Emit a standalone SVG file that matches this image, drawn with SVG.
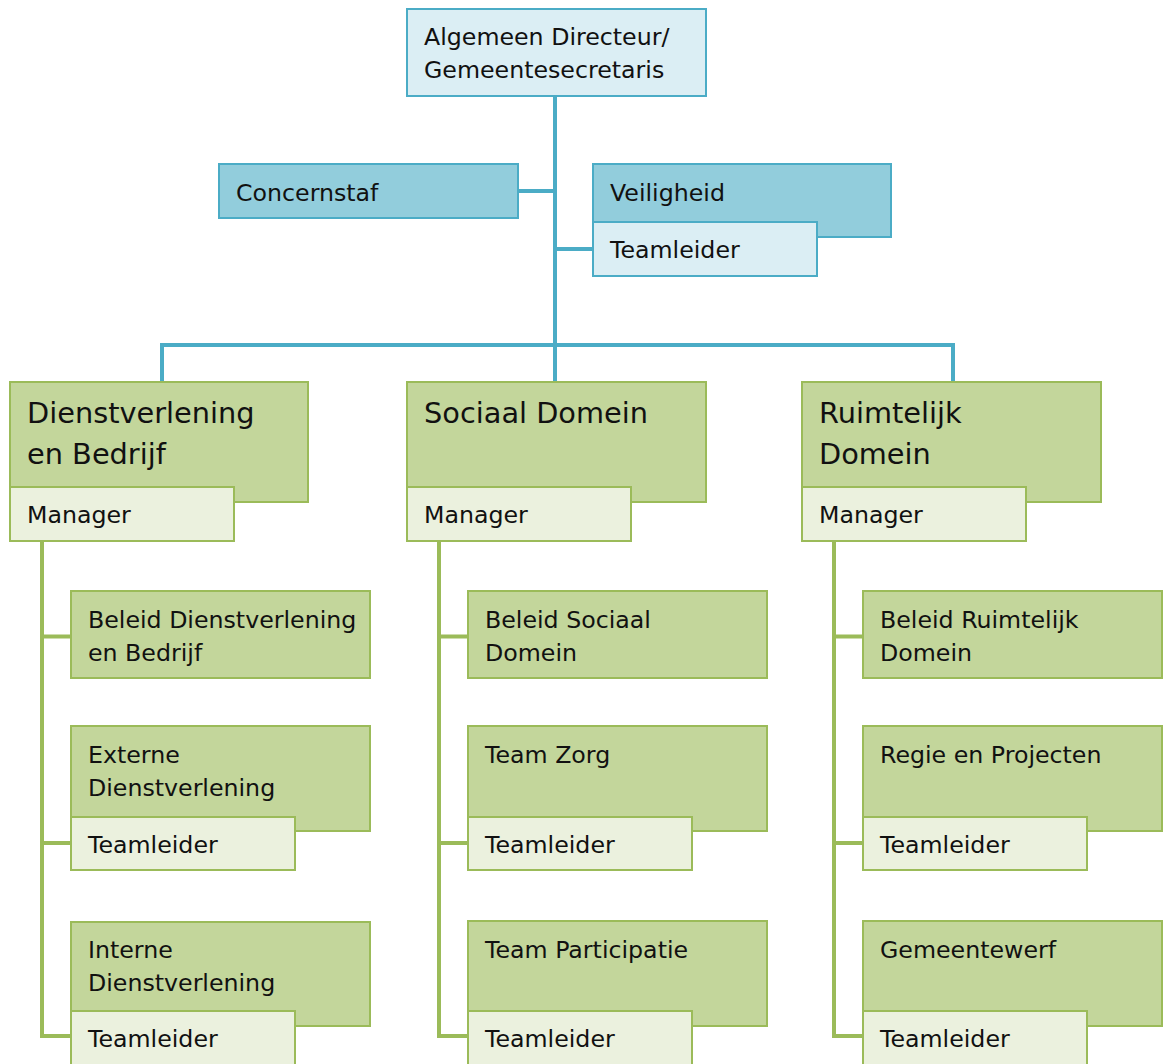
<svg xmlns="http://www.w3.org/2000/svg" width="1170" height="1064" viewBox="0 0 1170 1064">
  <style>
    text { font-family: "DejaVu Sans", Verdana, sans-serif; font-size: 23.7px; fill: #111; }
    .big { font-size: 28.8px; }
    .blueL { fill: #DBEEF4; stroke: #4BACC6; stroke-width: 2; }
    .blueM { fill: #92CDDC; stroke: #4BACC6; stroke-width: 2; }
    .green { fill: #C3D69B; stroke: #9BBB59; stroke-width: 2; }
    .greenL { fill: #EBF1DE; stroke: #9BBB59; stroke-width: 2; }
    .lnB { fill: none; stroke: #4BACC6; stroke-width: 4; }
    .lnG { fill: none; stroke: #9BBB59; stroke-width: 4; }
  </style>
  <rect width="1170" height="1064" fill="#fff"/>

  <!-- connectors -->
  <g id="connectors">
    <path class="lnB" d="M555 96 V382 M518 191 H555 M555 249 H593 M162 382 V345 H953 V382"/>
    <path class="lnG" d="M42 541 V1036 H71 M42 636.5 H71 M42 843 H71"/>
    <path class="lnG" d="M439 541 V1036 H468 M439 636.5 H468 M439 843 H468"/>
    <path class="lnG" d="M834 541 V1036 H863 M834 636.5 H863 M834 843 H863"/>
  </g>

  <!-- top -->
  <g id="directeur">
    <rect class="blueL" x="407" y="9" width="299" height="87"/>
    <text x="424" y="45">Algemeen Directeur/</text>
    <text x="424" y="78">Gemeentesecretaris</text>
  </g>
  <g id="concernstaf">
    <rect class="blueM" x="219" y="164" width="299" height="54"/>
    <text x="236" y="201">Concernstaf</text>
  </g>
  <g id="veiligheid">
    <rect class="blueM" x="593" y="164" width="298" height="73"/>
    <text x="610" y="201">Veiligheid</text>
    <rect class="blueL" x="593" y="222" width="224" height="54"/>
    <text x="610" y="258">Teamleider</text>
  </g>

  <!-- domains -->
  <g id="dienstverlening">
    <rect class="green" x="10" y="382" width="298" height="120"/>
    <text class="big" x="27" y="423">Dienstverlening</text>
    <text class="big" x="27" y="464">en Bedrijf</text>
    <rect class="greenL" x="10" y="487" width="224" height="54"/>
    <text x="27" y="523">Manager</text>
  </g>
  <g id="sociaal">
    <rect class="green" x="407" y="382" width="299" height="120"/>
    <text class="big" x="424" y="423">Sociaal Domein</text>
    <rect class="greenL" x="407" y="487" width="224" height="54"/>
    <text x="424" y="523">Manager</text>
  </g>
  <g id="ruimtelijk">
    <rect class="green" x="802" y="382" width="299" height="120"/>
    <text class="big" x="819" y="423">Ruimtelijk</text>
    <text class="big" x="819" y="464">Domein</text>
    <rect class="greenL" x="802" y="487" width="224" height="54"/>
    <text x="819" y="523">Manager</text>
  </g>

  <!-- left column -->
  <g id="beleid-dvb">
    <rect class="green" x="71" y="591" width="299" height="87"/>
    <text x="88" y="628">Beleid Dienstverlening</text>
    <text x="88" y="661">en Bedrijf</text>
  </g>
  <g id="externe">
    <rect class="green" x="71" y="726" width="299" height="105"/>
    <text x="88" y="763">Externe</text>
    <text x="88" y="796">Dienstverlening</text>
    <rect class="greenL" x="71" y="817" width="224" height="53"/>
    <text x="88" y="853">Teamleider</text>
  </g>
  <g id="interne">
    <rect class="green" x="71" y="922" width="299" height="104"/>
    <text x="88" y="958">Interne</text>
    <text x="88" y="991">Dienstverlening</text>
    <rect class="greenL" x="71" y="1011" width="224" height="56"/>
    <text x="88" y="1047">Teamleider</text>
  </g>

  <!-- middle column -->
  <g id="beleid-sd">
    <rect class="green" x="468" y="591" width="299" height="87"/>
    <text x="485" y="628">Beleid Sociaal</text>
    <text x="485" y="661">Domein</text>
  </g>
  <g id="zorg">
    <rect class="green" x="468" y="726" width="299" height="105"/>
    <text x="485" y="763">Team Zorg</text>
    <rect class="greenL" x="468" y="817" width="224" height="53"/>
    <text x="485" y="853">Teamleider</text>
  </g>
  <g id="participatie">
    <rect class="green" x="468" y="921" width="299" height="105"/>
    <text x="485" y="958">Team Participatie</text>
    <rect class="greenL" x="468" y="1011" width="224" height="56"/>
    <text x="485" y="1047">Teamleider</text>
  </g>

  <!-- right column -->
  <g id="beleid-rd">
    <rect class="green" x="863" y="591" width="299" height="87"/>
    <text x="880" y="628">Beleid Ruimtelijk</text>
    <text x="880" y="661">Domein</text>
  </g>
  <g id="regie">
    <rect class="green" x="863" y="726" width="299" height="105"/>
    <text x="880" y="763">Regie en Projecten</text>
    <rect class="greenL" x="863" y="817" width="224" height="53"/>
    <text x="880" y="853">Teamleider</text>
  </g>
  <g id="gemeentewerf">
    <rect class="green" x="863" y="921" width="299" height="105"/>
    <text x="880" y="958">Gemeentewerf</text>
    <rect class="greenL" x="863" y="1011" width="224" height="56"/>
    <text x="880" y="1047">Teamleider</text>
  </g>
</svg>
